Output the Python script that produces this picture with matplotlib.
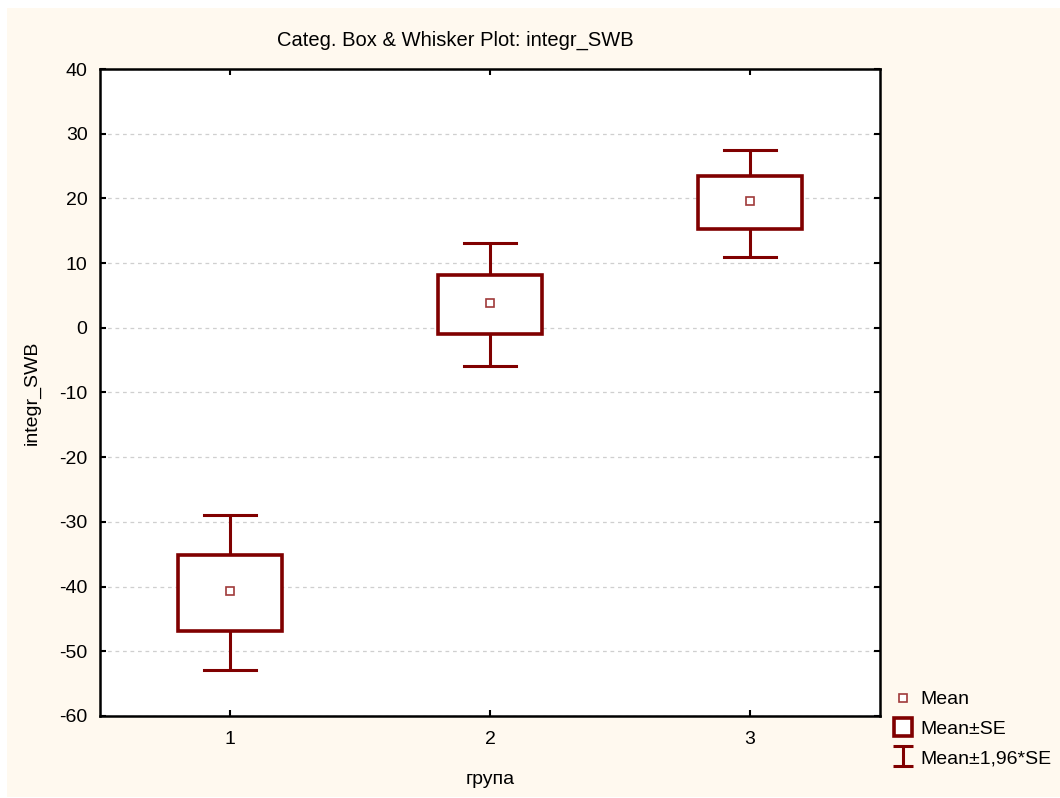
import matplotlib.pyplot as plt
from matplotlib.lines import Line2D
from matplotlib.path import Path
from matplotlib.patches import Rectangle

plt.rcParams['font.family'] = ['Liberation Sans', 'DejaVu Sans']
plt.rcParams['axes.unicode_minus'] = False

groups = [1, 2, 3]
means = [-40.7, 3.9, 19.6]
se_low = [-46.9, -1.0, 15.3]
se_high = [-35.1, 8.2, 23.4]
ci_low = [-52.9, -5.9, 11.0]
ci_high = [-29.0, 13.1, 27.5]

red = '#800000'
cream = '#fff9ef'

fig = plt.figure(figsize=(10.6, 7.98), dpi=100)
fig.patch.set_facecolor('white')
fig.patches.append(Rectangle((7 / 1060, 1 / 798), 1, 1 - 9 / 798, transform=fig.transFigure,
                             facecolor=cream, edgecolor='none', zorder=-10))

ax = fig.add_axes([100 / 1060, 1 - 716 / 798, 780 / 1060, 647 / 798])
ax.set_facecolor('white')

box_w = 0.4
cap_w = 0.2
for x, m, sl, sh, cl, ch in zip(groups, means, se_low, se_high, ci_low, ci_high):
    # whiskers
    ax.plot([x, x], [sh, ch], color=red, lw=2.2, solid_capstyle='butt', zorder=3)
    ax.plot([x, x], [cl, sl], color=red, lw=2.2, solid_capstyle='butt', zorder=3)
    ax.plot([x - cap_w / 2, x + cap_w / 2], [ch, ch], color=red, lw=2.2, zorder=3)
    ax.plot([x - cap_w / 2, x + cap_w / 2], [cl, cl], color=red, lw=2.2, zorder=3)
    # box
    ax.add_patch(Rectangle((x - box_w / 2, sl), box_w, sh - sl, facecolor='white',
                           edgecolor=red, lw=2.6, zorder=4))
ax.plot(groups, means, ls='none', marker='s', ms=6, mfc='white', mec='#a03a3a',
        mew=1.2, zorder=5)

ax.set_xlim(0.5, 3.5)
ax.set_ylim(-60, 40)
ax.set_xticks(groups)
ax.set_yticks(range(-60, 41, 10))
ax.yaxis.grid(True, color='#cfcfcf', ls=(0, (3, 3)), lw=0.9)
ax.set_axisbelow(True)
ax.tick_params(direction='in', length=4, width=1.5, top=True, right=True,
               labelsize=14)
ax.tick_params(axis='y', pad=9)
ax.tick_params(axis='x', pad=11)
for s in ax.spines.values():
    s.set_linewidth(1.8)

fig.text(455 / 1060, 1 - 40 / 798, 'Categ. Box & Whisker Plot: integr_SWB',
         ha='center', va='center', fontsize=14.5)
ax.set_xlabel('група', fontsize=14, labelpad=16)
ax.set_ylabel('integr_SWB', fontsize=14, labelpad=13)

ibeam = Path([(-1, 1), (1, 1), (0, 1), (0, -1), (-1, -1), (1, -1)],
             [Path.MOVETO, Path.LINETO, Path.MOVETO, Path.LINETO, Path.MOVETO, Path.LINETO])
handles = [
    Line2D([], [], ls='none', marker='s', ms=6, mfc='white', mec='#a03a3a', mew=1.2),
    Line2D([], [], ls='none', marker='s', ms=13, mfc='white', mec=red, mew=2.6),
    Line2D([], [], ls='none', marker=ibeam, ms=15, mec=red, mew=2.2),
]
fig.legend(handles, ['Mean', 'Mean±SE', 'Mean±1,96*SE'], loc='lower left',
           bbox_to_anchor=(893 / 1060, 1 - 767 / 798), frameon=False, fontsize=14,
           handlelength=1.0, handleheight=0.7, handletextpad=0.4, labelspacing=0.6,
           borderpad=0, borderaxespad=0)

fig.savefig('out.png', dpi=100, facecolor=fig.get_facecolor())
